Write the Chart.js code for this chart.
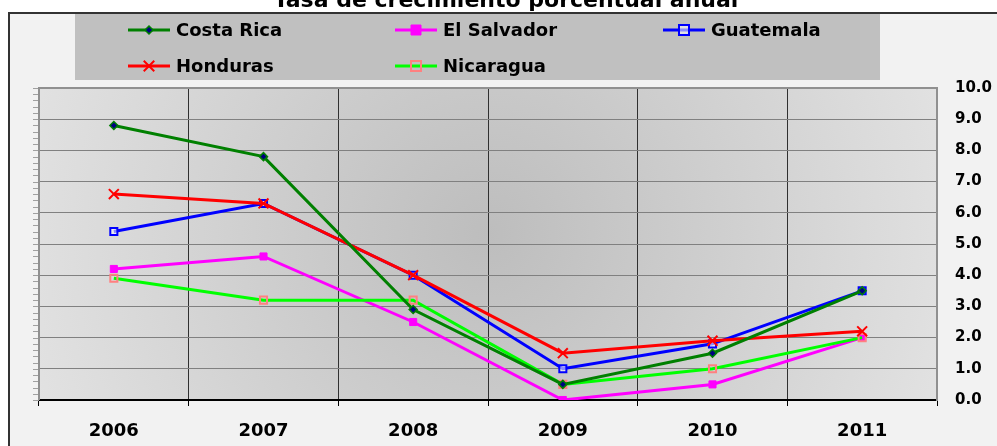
<!DOCTYPE html>
<html>
<head>
<meta charset="utf-8">
<script src="https://cdn.jsdelivr.net/npm/chart.js@4.4.1/dist/chart.umd.min.js"></script>
<style>
html,body{margin:0;padding:0;background:#fff;}
#wrap{width:997px;height:446px;position:relative;}
</style>
</head>
<body>
<div id="wrap"><canvas id="c" width="997" height="446"></canvas></div>
<script>
const titleText = "Tasa de crecimiento porcentual anual";
const years = ["2006","2007","2008","2009","2010","2011"];
const yTicks = [0,1,2,3,4,5,6,7,8,9,10];
const costaRica  = [8.8, 7.8, 2.9, 0.5, 1.5, 3.5];
const elSalvador = [4.2, 4.6, 2.5, 0.0, 0.5, 2.0];
const guatemala  = [5.4, 6.3, 4.0, 1.0, 1.8, 3.5];
const honduras   = [6.6, 6.3, 4.0, 1.5, 1.9, 2.2];
const nicaragua  = [3.9, 3.2, 3.2, 0.5, 1.0, 2.0];

const FONT = "'DejaVu Sans', sans-serif";

function drawMarker(ctx, ds, x, y){
  const r = ds.pointRadius;
  ctx.save();
  ctx.lineWidth = ds.pointBorderWidth;
  ctx.strokeStyle = ds.pointBorderColor;
  ctx.fillStyle = ds.pointBackgroundColor;
  ctx.beginPath();
  if (ds.pointStyle === 'rect'){
    ctx.rect(x-r, y-r, 2*r, 2*r);
    ctx.fill(); ctx.stroke();
  } else if (ds.pointStyle === 'rectRot'){
    ctx.moveTo(x, y-r); ctx.lineTo(x+r, y); ctx.lineTo(x, y+r); ctx.lineTo(x-r, y); ctx.closePath();
    ctx.fill(); ctx.stroke();
  } else if (ds.pointStyle === 'crossRot'){
    const d = r*0.75;
    ctx.moveTo(x-d, y-d); ctx.lineTo(x+d, y+d);
    ctx.moveTo(x+d, y-d); ctx.lineTo(x-d, y+d);
    ctx.stroke();
  }
  ctx.restore();
}

const bgPlugin = {
  id: 'bgPlugin',
  beforeDraw(chart){
    const ctx = chart.ctx, a = chart.chartArea;
    ctx.save();
    ctx.fillStyle = '#ffffff';
    ctx.fillRect(0,0,chart.width,chart.height);
    ctx.fillStyle = '#f2f2f2';
    ctx.fillRect(9,13,chart.width-9,chart.height-13);
    ctx.strokeStyle = '#333';
    ctx.lineWidth = 2;
    ctx.beginPath();
    ctx.moveTo(9, chart.height); ctx.lineTo(9, 13); ctx.lineTo(chart.width, 13);
    ctx.stroke();
    const cx = (a.left+a.right)/2, cy = (a.top+a.bottom)/2 - 10;
    const g = ctx.createRadialGradient(cx, cy, 0, cx, cy, (a.right-a.left)*0.55);
    g.addColorStop(0, '#bdbdbd');
    g.addColorStop(1, '#e3e3e3');
    ctx.fillStyle = g;
    ctx.fillRect(a.left, a.top, a.right-a.left, a.bottom-a.top);
    // title
    ctx.fillStyle = '#000';
    ctx.font = "bold 22px " + FONT;
    ctx.textAlign = 'center';
    ctx.textBaseline = 'alphabetic';
    ctx.fillText(titleText, 506, 7);
    ctx.restore();
  },
  beforeDatasetsDraw(chart){
    const ctx = chart.ctx, a = chart.chartArea, ys = chart.scales.y;
    ctx.save();
    ctx.strokeStyle = '#a0a0a0';
    ctx.lineWidth = 1;
    for (let v = 0; v <= 10.0001; v += 0.2){
      const py = Math.round(ys.getPixelForValue(v)) + 0.5;
      ctx.beginPath(); ctx.moveTo(a.left-6, py); ctx.lineTo(a.left, py); ctx.stroke();
    }
    ctx.strokeStyle = '#909090';
    ctx.lineWidth = 2;
    ctx.beginPath(); ctx.moveTo(a.left, a.bottom); ctx.lineTo(a.left, a.top); ctx.lineTo(a.right, a.top); ctx.stroke();
    ctx.restore();
  },
  afterDraw(chart){
    const ctx = chart.ctx;
    ctx.save();
    ctx.fillStyle = '#c0c0c0';
    ctx.fillRect(75, 14, 805, 66);
    const pos = [[128,30],[395,30],[663,30],[128,66],[395,66]];
    ctx.font = "bold 18px " + FONT;
    ctx.textAlign = 'left';
    ctx.textBaseline = 'middle';
    chart.data.datasets.forEach((ds, i) => {
      const [x, y] = pos[i];
      ctx.strokeStyle = ds.borderColor;
      ctx.lineWidth = 3;
      ctx.beginPath(); ctx.moveTo(x, y); ctx.lineTo(x+42, y); ctx.stroke();
      drawMarker(ctx, ds, x+21, y);
      ctx.fillStyle = '#000';
      ctx.fillText(ds.label, x+48, y+1);
    });
    ctx.restore();
  }
};

function mk(label, data, color, style, radius, bg, bc, bw, order){
  return {
    label, data,
    borderColor: color, borderWidth: 3, tension: 0,
    pointStyle: style, pointRadius: radius, pointHoverRadius: radius,
    pointBackgroundColor: bg, pointBorderColor: bc, pointBorderWidth: bw,
    fill: false, order
  };
}

new Chart(document.getElementById('c'), {
  type: 'line',
  data: {
    labels: years,
    datasets: [
      mk('Costa Rica', costaRica, '#008000', 'rectRot', 4, '#000080', '#008000', 1.5, 0),
      mk('El Salvador', elSalvador, '#ff00ff', 'rect', 5, '#ff00ff', '#ff00ff', 1, 4),
      mk('Guatemala', guatemala, '#0000ff', 'rect', 5, 'rgba(255,255,255,0.55)', '#0000ff', 2, 3),
      mk('Honduras', honduras, '#ff0000', 'crossRot', 7, '#ff0000', '#ff0000', 2, 1),
      mk('Nicaragua', nicaragua, '#00ff00', 'rect', 5, 'rgba(0,0,0,0)', '#ff8080', 2, 2)
    ]
  },
  options: {
    responsive: false,
    animation: false,
    layout: { padding: { left: 39, top: 88, right: 0, bottom: 0 } },
    plugins: { legend: { display: false }, title: { display: false }, tooltip: { enabled: false } },
    scales: {
      x: {
        offset: true,
        grid: { offset: true, color: '#303030', lineWidth: 1, tickLength: 6, tickColor: '#000', drawTicks: true },
        border: { display: true, color: '#000', width: 2 },
        ticks: { color: '#000', font: { family: FONT, size: 18, weight: 'bold' }, padding: 15, maxRotation: 0 },
        afterFit(s){ s.height = 46; }
      },
      y: {
        position: 'right',
        min: 0, max: 10,
        afterBuildTicks(s){ s.ticks = yTicks.map(v => ({ value: v })); },
        grid: { color: '#808080', lineWidth: 1, drawTicks: false },
        border: { display: true, color: '#909090', width: 2 },
        ticks: { color: '#000', font: { family: FONT, size: 15, weight: 'bold' }, padding: 18,
                 callback: v => Number(v).toFixed(1) },
        afterFit(s){ s.width = 60; }
      }
    }
  },
  plugins: [bgPlugin]
});
</script>
</body>
</html>
